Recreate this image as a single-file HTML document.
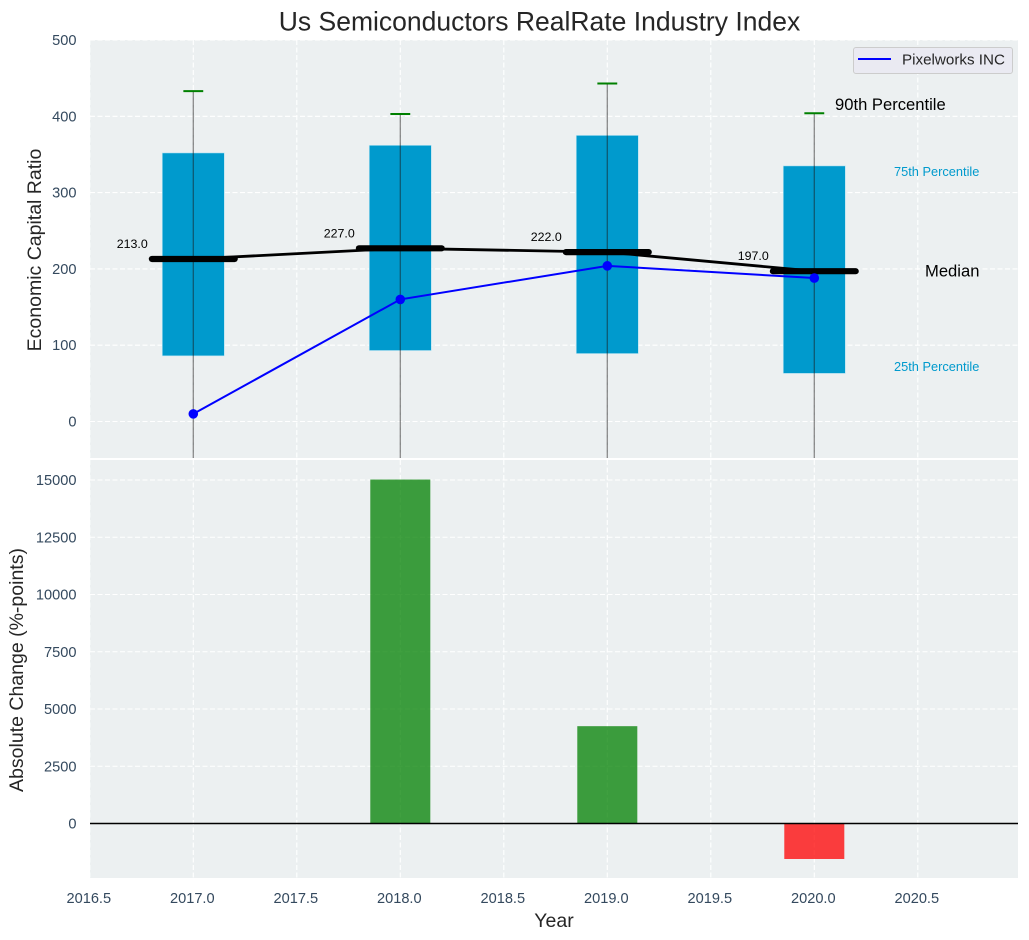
<!DOCTYPE html>
<html>
<head>
<meta charset="utf-8">
<title>Us Semiconductors RealRate Industry Index</title>
<style>
html,body{margin:0;padding:0;background:#fff}
svg{display:block}
text{font-family:"Liberation Sans",Arial,sans-serif}
</style>
</head>
<body>
<svg id="chart" width="1029" height="940" viewBox="0 0 1029 940" xmlns="http://www.w3.org/2000/svg">
  <defs><clipPath id="c1"><rect x="90" y="40" width="928" height="418"/></clipPath></defs>
  <rect x="90" y="40" width="928" height="418" fill="#ecf0f1"/>
  <rect x="90" y="460" width="928" height="418" fill="#ecf0f1"/>
  <g id="gridLayer" stroke="#fff" stroke-width="1.1" stroke-dasharray="5 2.5" fill="none"></g>
  <g id="topMarks" clip-path="url(#c1)"></g>
  <g id="bottomMarks"></g>
  <g id="labelLayer"></g>

  <text x="835" y="110" font-size="16.6" fill="#000">90th Percentile</text>
  <text x="894" y="176" font-size="12.8" fill="#009ACD">75th Percentile</text>
  <text x="925" y="276.5" font-size="16.6" fill="#000">Median</text>
  <text x="894" y="371" font-size="12.8" fill="#009ACD">25th Percentile</text>

  <g>
    <rect x="853.5" y="47.5" width="159" height="26" rx="2.5" fill="#eaeaf2" stroke="#cccccc" stroke-width="1"/>
    <line x1="858" x2="891" y1="59" y2="59" stroke="#0000ff" stroke-width="2"/>
    <text x="902" y="64.5" font-size="15.2" fill="#262626">Pixelworks INC</text>
  </g>

  <text x="539.5" y="30.5" font-size="26.5" fill="#262626" text-anchor="middle">Us Semiconductors RealRate Industry Index</text>
  <text x="554" y="927" font-size="19.5" fill="#262626" text-anchor="middle">Year</text>
  <text font-size="19.5" fill="#262626" text-anchor="middle" transform="translate(41,250) rotate(-90)">Economic Capital Ratio</text>
  <text font-size="19.5" fill="#262626" text-anchor="middle" transform="translate(23,670) rotate(-90)">Absolute Change (%-points)</text>
</svg>
<script>
const years = [2017, 2018, 2019, 2020];
const p25 = [86, 93, 89, 63];
const p75 = [352, 362, 375, 335];
const p90 = [433, 403, 443, 404];
const whiskerLow = [-60, -60, -60, -60];
const medians = [213, 227, 222, 197];
const companyValues = [10, 160, 204, 188];
const changes = [0, 15020, 4250, -1550];
const xTicks = [2016.5, 2017, 2017.5, 2018, 2018.5, 2019, 2019.5, 2020, 2020.5];
const yTicksTop = [0, 100, 200, 300, 400, 500];
const yTicksBottom = [0, 2500, 5000, 7500, 10000, 12500, 15000];

const NS = 'http://www.w3.org/2000/svg';
const plotLeft = 90, plotRight = 1018, top1 = 40, bottom1 = 458, top2 = 460, bottom2 = 878;
const boxWidth = 0.3, barWidth = 0.29, capHalf = 0.048, medianHalf = 0.2;
const sx = v => 193.3 + (v - 2017) * 207;
const sy1 = v => 421.5 - v * 0.763;
const sy2 = v => 823.5 - v * 0.0229;

const gridLayer = document.getElementById('gridLayer');
const topMarks = document.getElementById('topMarks');
const bottomMarks = document.getElementById('bottomMarks');
const labelLayer = document.getElementById('labelLayer');

function mk(tag, attrs, parent) {
  const el = document.createElementNS(NS, tag);
  for (const k in attrs) el.setAttribute(k, attrs[k]);
  parent.appendChild(el);
  return el;
}
function label(s, x, y, size, fill, anchor) {
  const t = mk('text', {x: x, y: y, 'font-size': size, fill: fill, 'text-anchor': anchor}, labelLayer);
  t.textContent = s;
  return t;
}

xTicks.forEach(v => {
  let el = mk('line', {x1: sx(v), x2: sx(v), y1: top1, y2: bottom1}, gridLayer);
  
  
  el = mk('line', {x1: sx(v), x2: sx(v), y1: top2, y2: bottom2}, gridLayer);
  
  
});
yTicksTop.forEach(v => {
  const el = mk('line', {x1: plotLeft, x2: plotRight, y1: sy1(v), y2: sy1(v)}, gridLayer);
  
  
});
yTicksBottom.forEach(v => {
  const el = mk('line', {x1: plotLeft, x2: plotRight, y1: sy2(v), y2: sy2(v)}, gridLayer);
  
  
});

years.forEach((y, i) => {
  const el = mk('rect', {x: sx(y - boxWidth / 2), y: sy1(p75[i]), width: sx(y + boxWidth / 2) - sx(y - boxWidth / 2), height: sy1(p25[i]) - sy1(p75[i]), fill: '#009ACD', stroke: '#bfe6f3', 'stroke-width': 0.6}, topMarks);
  
  
});
years.forEach((y, i) => {
  const whisker = mk('line', {x1: sx(y), x2: sx(y), y1: sy1(p90[i]), y2: sy1(whiskerLow[i]), stroke: '#1a1a1a', 'stroke-opacity': 0.5, 'stroke-width': 1.3}, topMarks);
  
  
  const cap = mk('line', {x1: sx(y - capHalf), x2: sx(y + capHalf), y1: sy1(p90[i]), y2: sy1(p90[i]), stroke: '#008000', 'stroke-width': 2}, topMarks);
  
  
});

const medianLine = mk('polyline', {points: years.map((y, i) => sx(y) + ',' + sy1(medians[i])).join(' '), fill: 'none', stroke: '#000', 'stroke-width': 2.8}, topMarks);



years.forEach((y, i) => {
  const el = mk('line', {x1: sx(y - medianHalf), x2: sx(y + medianHalf), y1: sy1(medians[i]), y2: sy1(medians[i]), stroke: '#000', 'stroke-width': 6.2, 'stroke-linecap': 'round'}, topMarks);
  
  
});

const companyLine = mk('polyline', {points: years.map((y, i) => sx(y) + ',' + sy1(companyValues[i])).join(' '), fill: 'none', stroke: '#0000ff', 'stroke-width': 2}, topMarks);



years.forEach((y, i) => {
  const el = mk('circle', {cx: sx(y), cy: sy1(companyValues[i]), r: 4.8, fill: '#0000ff'}, topMarks);
  
  
});

years.forEach((y, i) => {
  const el = label(medians[i].toFixed(1), sx(y - 0.295), sy1(medians[i]) - 11, 12.4, '#000', 'middle');
  
  
});

years.forEach((y, i) => {
  if (changes[i] === 0) return;
  const yTop = sy2(Math.max(changes[i], 0));
  const yBot = sy2(Math.min(changes[i], 0));
  const el = mk('rect', {x: sx(y - barWidth / 2), y: yTop, width: sx(y + barWidth / 2) - sx(y - barWidth / 2), height: yBot - yTop, fill: changes[i] > 0 ? '#008000' : '#ff0000', 'fill-opacity': 0.75}, bottomMarks);
  
  
});
const zeroLine = mk('line', {x1: plotLeft, x2: plotRight, y1: sy2(0), y2: sy2(0), stroke: '#000', 'stroke-width': 1.4}, bottomMarks);



const tickColor = '#34495e';
const tickSize = 14.6;
yTicksTop.forEach(v => {
  const el = label(String(v), 76.5, sy1(v) + 5, tickSize, tickColor, 'end');
  
  
});
yTicksBottom.forEach(v => {
  const el = label(String(v), 76.5, sy2(v) + 5, tickSize, tickColor, 'end');
  
  
});
xTicks.forEach(v => {
  const el = label(v.toFixed(1), sx(v) - 1, 903, tickSize, tickColor, 'middle');
  
  
});
</script>
</body>
</html>
